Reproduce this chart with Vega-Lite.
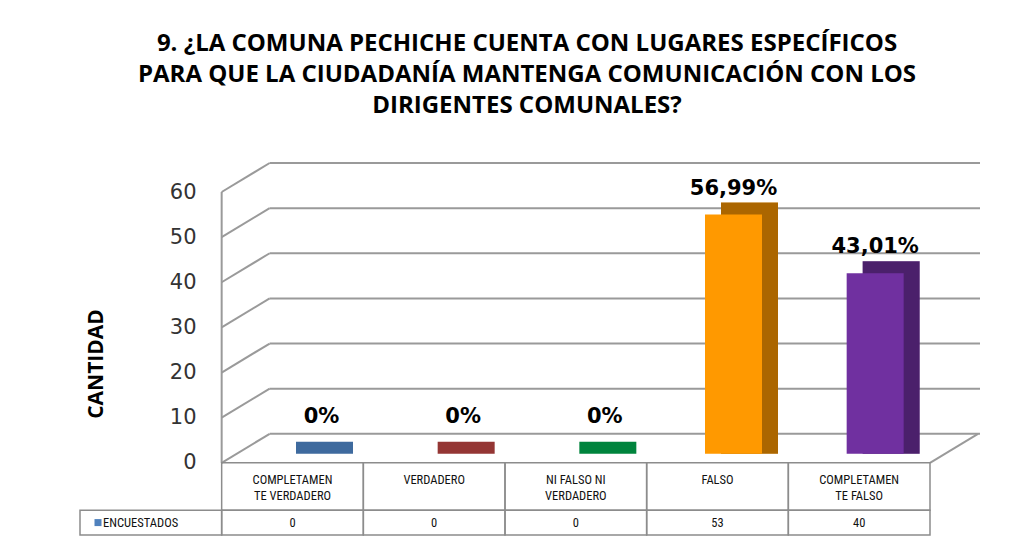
{
  "$schema": "https://vega.github.io/schema/vega-lite/v6.json",
  "width": 850,
  "height": 343,
  "autosize": {"type": "none"},
  "padding": {"left": 80, "top": 192, "right": 100, "bottom": 12},
  "background": "white",
  "config": {"view": {"stroke": null}},
  "title": {
    "text": ["9. ¿LA COMUNA PECHICHE CUENTA CON LUGARES ESPECÍFICOS", "PARA QUE LA CIUDADANÍA MANTENGA COMUNICACIÓN CON LOS", "DIRIGENTES COMUNALES?"],
    "font": "Open Sans",
    "fontSize": 24,
    "fontWeight": "bold",
    "color": "#000000",
    "lineHeight": 31,
    "anchor": "middle",
    "offset": 44,
    "dx": 22
  },
  "datasets": {
    "bars": [
      {"cat": "COMPLETAMENTE VERDADERO", "label": ["COMPLETAMEN", "TE VERDADERO"], "value": 0, "pct": "0%"},
      {"cat": "VERDADERO", "label": ["VERDADERO"], "value": 0, "pct": "0%"},
      {"cat": "NI FALSO NI VERDADERO", "label": ["NI FALSO NI", "VERDADERO"], "value": 0, "pct": "0%"},
      {"cat": "FALSO", "label": ["FALSO"], "value": 53, "pct": "56,99%"},
      {"cat": "COMPLETAMENTE FALSO", "label": ["COMPLETAMEN", "TE FALSO"], "value": 40, "pct": "43,01%"}
    ],
    "grid": [{"v": 0}, {"v": 10}, {"v": 20}, {"v": 30}, {"v": 40}, {"v": 50}, {"v": 60}],
    "legend": [{"cat": "ENCUESTADOS", "name": "ENCUESTADOS"}]
  },
  "layer": [
    {
      "data": {"name": "grid"},
      "mark": {"type": "rule", "color": "#9a9a9a", "strokeWidth": 2, "xOffset": 48, "x2Offset": 50, "yOffset": -29, "y2Offset": -29},
      "encoding": {
        "x": {"datum": "COMPLETAMENTE VERDADERO", "type": "nominal", "bandPosition": 0, "axis": null,
          "scale": {"domain": ["ENCUESTADOS", "COMPLETAMENTE VERDADERO", "VERDADERO", "NI FALSO NI VERDADERO", "FALSO", "COMPLETAMENTE FALSO"], "paddingInner": 0, "paddingOuter": 0}},
        "x2": {"datum": "COMPLETAMENTE FALSO", "bandPosition": 1},
        "y": {"field": "v", "type": "quantitative",
          "scale": {"domain": [-16, 60], "nice": false, "zero": false},
          "axis": {"values": [0, 10, 20, 30, 40, 50, 60], "offset": -142, "domain": false, "ticks": false, "grid": false,
            "labelFont": "DejaVu Sans", "labelFontSize": 21, "labelColor": "#333333", "labelPadding": 26,
            "title": "CANTIDAD", "titleFont": "Open Sans", "titleFontSize": 21, "titleFontWeight": "bold", "titleColor": "#000000", "titlePadding": 63}},
        "y2": {"field": "v"}
      }
    },
    {
      "data": {"name": "grid"},
      "mark": {"type": "rule", "color": "#9a9a9a", "strokeWidth": 2, "x2Offset": 48, "y2Offset": -29},
      "encoding": {
        "x": {"datum": "COMPLETAMENTE VERDADERO", "type": "nominal", "bandPosition": 0},
        "x2": {"datum": "COMPLETAMENTE VERDADERO", "bandPosition": 0},
        "y": {"field": "v", "type": "quantitative"},
        "y2": {"field": "v"}
      }
    },
    {
      "data": {"name": "legend"},
      "mark": {"type": "rule", "color": "#9a9a9a", "strokeWidth": 2, "x2Offset": 48, "y2Offset": -29},
      "encoding": {
        "x": {"datum": "COMPLETAMENTE FALSO", "type": "nominal", "bandPosition": 1},
        "x2": {"datum": "COMPLETAMENTE FALSO", "bandPosition": 1},
        "y": {"datum": 0, "type": "quantitative"},
        "y2": {"datum": 0}
      }
    },
    {
      "data": {"name": "legend"},
      "mark": {"type": "rule", "color": "#9a9a9a", "strokeWidth": 2},
      "encoding": {
        "x": {"datum": "COMPLETAMENTE VERDADERO", "type": "nominal", "bandPosition": 0},
        "y": {"datum": 0, "type": "quantitative"},
        "y2": {"datum": 60}
      }
    },
    {
      "data": {"name": "bars"},
      "mark": {"type": "bar", "size": 57, "xOffset": 32, "yOffset": -21, "y2Offset": -9},
      "encoding": {
        "x": {"field": "cat", "type": "nominal"},
        "y": {"field": "value", "type": "quantitative"},
        "y2": {"datum": 0},
        "color": {"field": "cat", "type": "nominal", "legend": null,
          "scale": {"domain": ["COMPLETAMENTE VERDADERO", "VERDADERO", "NI FALSO NI VERDADERO", "FALSO", "COMPLETAMENTE FALSO"],
            "range": ["#3E6A9E", "#943634", "#00843D", "#FF9900", "#7030A0"]}}
      }
    },
    {
      "data": {"name": "bars"},
      "transform": [{"filter": "datum.value > 0"}],
      "mark": {"type": "bar", "size": 57, "xOffset": 32, "yOffset": -21, "y2Offset": -9, "color": "#000000", "opacity": 0.33},
      "encoding": {
        "x": {"field": "cat", "type": "nominal"},
        "y": {"field": "value", "type": "quantitative"},
        "y2": {"datum": 0}
      }
    },
    {
      "data": {"name": "bars"},
      "mark": {"type": "bar", "size": 57, "xOffset": 16, "yOffset": -9, "y2Offset": -9},
      "encoding": {
        "x": {"field": "cat", "type": "nominal"},
        "y": {"field": "value", "type": "quantitative"},
        "y2": {"datum": 0},
        "color": {"field": "cat", "type": "nominal", "legend": null}
      }
    },
    {
      "data": {"name": "bars"},
      "transform": [{"filter": "datum.value > 0"}],
      "mark": {"type": "text", "font": "DejaVu Sans", "fontSize": 21, "fontWeight": "bold", "color": "#000000", "baseline": "middle", "xOffset": 16, "yOffset": -35},
      "encoding": {
        "x": {"field": "cat", "type": "nominal"},
        "y": {"field": "value", "type": "quantitative"},
        "text": {"field": "pct"}
      }
    },
    {
      "data": {"name": "bars"},
      "transform": [{"filter": "datum.value == 0"}],
      "mark": {"type": "text", "font": "DejaVu Sans", "fontSize": 21, "fontWeight": "bold", "color": "#000000", "baseline": "middle", "xOffset": 29, "yOffset": -46},
      "encoding": {
        "x": {"field": "cat", "type": "nominal"},
        "y": {"field": "value", "type": "quantitative"},
        "text": {"field": "pct"}
      }
    },
    {
      "data": {"name": "bars"},
      "mark": {"type": "rect", "fill": null, "fillOpacity": 0, "stroke": "#8c8c8c", "strokeWidth": 1.5},
      "encoding": {
        "x": {"field": "cat", "type": "nominal"},
        "y": {"datum": 0, "type": "quantitative"},
        "y2": {"datum": -10.5}
      }
    },
    {
      "data": {"name": "bars"},
      "mark": {"type": "rect", "fill": null, "fillOpacity": 0, "stroke": "#8c8c8c", "strokeWidth": 1.5},
      "encoding": {
        "x": {"field": "cat", "type": "nominal"},
        "y": {"datum": -10.5, "type": "quantitative"},
        "y2": {"datum": -16}
      }
    },
    {
      "data": {"name": "legend"},
      "mark": {"type": "rect", "fill": null, "fillOpacity": 0, "stroke": "#8c8c8c", "strokeWidth": 1.5},
      "encoding": {
        "x": {"field": "cat", "type": "nominal"},
        "y": {"datum": -10.5, "type": "quantitative"},
        "y2": {"datum": -16}
      }
    },
    {
      "data": {"name": "bars"},
      "mark": {"type": "text", "font": "Liberation Sans Narrow, Roboto Condensed, Roboto", "fontSize": 12.5, "color": "#111111", "baseline": "top", "yOffset": 11, "lineHeight": 16},
      "encoding": {
        "x": {"field": "cat", "type": "nominal"},
        "y": {"datum": 0, "type": "quantitative"},
        "text": {"field": "label"}
      }
    },
    {
      "data": {"name": "bars"},
      "mark": {"type": "text", "font": "Liberation Sans Narrow, Roboto Condensed, Roboto", "fontSize": 12.5, "color": "#111111", "baseline": "middle"},
      "encoding": {
        "x": {"field": "cat", "type": "nominal"},
        "y": {"datum": -13.25, "type": "quantitative"},
        "text": {"field": "value"}
      }
    },
    {
      "data": {"name": "legend"},
      "mark": {"type": "point", "shape": "square", "filled": true, "size": 49, "color": "#4F81BD", "opacity": 1, "xOffset": 18},
      "encoding": {
        "x": {"field": "cat", "type": "nominal", "bandPosition": 0},
        "y": {"datum": -13.25, "type": "quantitative"}
      }
    },
    {
      "data": {"name": "legend"},
      "mark": {"type": "text", "font": "Liberation Sans Narrow, Roboto Condensed, Roboto", "fontSize": 12.5, "color": "#111111", "baseline": "middle", "align": "left", "xOffset": 23},
      "encoding": {
        "x": {"field": "cat", "type": "nominal", "bandPosition": 0},
        "y": {"datum": -13.25, "type": "quantitative"},
        "text": {"field": "name"}
      }
    }
  ]
}
